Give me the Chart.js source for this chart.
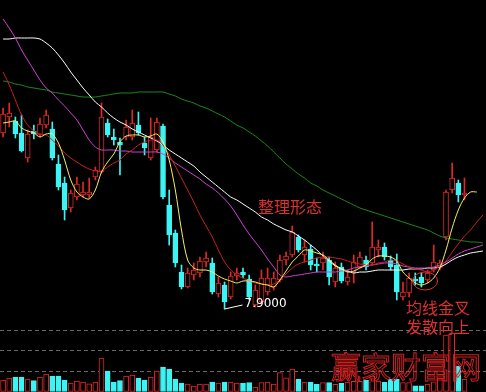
<!DOCTYPE html>
<html>
<head>
<meta charset="utf-8">
<script src="https://cdn.jsdelivr.net/npm/chart.js@4.4.1/dist/chart.umd.min.js"></script>
<style>
    html, body { margin: 0; padding: 0; background: #000; }
    #kline { display: block; }
</style>
</head>
<body>
<canvas id="kline" width="486" height="392"></canvas>
<script>
// daily candles
var opens = [11.42, 11.74, 11.66, 11.42, 10.92, 11.46, 11.38, 11.58, 11.50, 10.80,
    10.42, 9.92, 10.14, 10.18, 10.18, 10.54, 10.64, 11.62, 11.34, 11.24,
    11.34, 11.34, 11.58, 11.22, 10.92, 11.08, 11.56, 9.98, 9.42, 8.64,
    8.34, 8.58, 8.62, 8.84, 8.82, 8.20, 8.38, 8.14, 8.56, 8.64,
    8.50, 7.98, 8.04, 8.24, 8.34, 8.48, 8.88, 8.98, 9.34, 8.98,
    9.10, 8.80, 8.82, 8.88, 8.44, 8.74, 8.44, 8.64, 8.74, 8.88,
    8.82, 9.08, 9.14, 8.88, 8.78, 8.14, 8.22, 8.50, 8.54, 8.48,
    8.68, 8.72, 9.34, 10.28, 10.42, 10.18];
var closes = [11.80, 11.82, 11.40, 11.06, 11.40, 11.40, 11.60, 11.78, 10.92, 10.34,
    9.88, 10.22, 10.40, 10.24, 10.24, 10.68, 11.74, 11.38, 11.28, 11.18,
    11.54, 11.62, 11.42, 11.12, 11.34, 11.64, 10.14, 9.38, 8.82, 8.34,
    8.62, 8.68, 8.86, 8.92, 8.24, 8.42, 8.04, 8.56, 8.62, 8.58,
    8.14, 8.28, 8.52, 8.52, 8.52, 8.88, 8.96, 9.44, 9.08, 9.14,
    8.78, 8.76, 8.92, 8.54, 8.72, 8.46, 8.54, 8.84, 8.94, 8.74,
    9.14, 9.14, 8.94, 8.74, 8.24, 8.24, 8.52, 8.46, 8.42, 8.62,
    8.84, 8.82, 10.24, 10.52, 10.18, 10.22];
var highs = [11.92, 12.02, 11.74, 11.78, 11.48, 11.58, 11.72, 11.88, 11.64, 10.98,
    10.54, 10.28, 10.54, 10.44, 10.52, 10.74, 12.02, 11.70, 11.50, 11.32,
    11.68, 11.88, 11.84, 11.34, 11.72, 11.72, 11.60, 10.28, 9.48, 8.78,
    8.72, 8.82, 8.94, 9.04, 8.92, 8.54, 8.44, 8.64, 8.72, 8.72,
    8.58, 8.38, 8.68, 8.72, 8.64, 8.98, 9.04, 9.56, 9.38, 9.28,
    9.18, 8.92, 9.04, 8.94, 8.84, 8.82, 8.68, 8.98, 9.04, 8.96,
    9.64, 9.28, 9.22, 8.96, 9.00, 8.44, 8.62, 8.62, 8.62, 8.68,
    9.18, 8.88, 10.28, 10.82, 10.48, 10.52];
var lows = [11.34, 11.54, 11.32, 11.04, 10.84, 11.30, 11.34, 11.52, 10.88, 10.28,
    9.68, 9.84, 10.08, 10.14, 10.12, 10.48, 10.62, 11.34, 11.18, 10.58,
    11.28, 11.28, 11.38, 10.98, 10.88, 11.04, 10.10, 9.18, 8.74, 8.30,
    8.32, 8.48, 8.54, 8.74, 8.20, 8.14, 7.90, 8.10, 8.48, 8.52,
    8.08, 7.94, 8.00, 8.18, 8.28, 8.44, 8.78, 8.94, 9.04, 8.84,
    8.68, 8.64, 8.68, 8.38, 8.34, 8.42, 8.38, 8.42, 8.72, 8.68,
    8.78, 8.94, 8.88, 8.68, 8.08, 8.08, 8.14, 8.38, 8.34, 8.42,
    8.64, 8.68, 9.28, 10.22, 10.04, 10.08];
var volumes = [2940, 3430, 3675, 3675, 3185, 2770, 3675, 4410, 3920, 3920,
    2940, 2205, 2695, 2450, 2030, 2450, 8330, 5145, 2450, 2770,
    3920, 4165, 3430, 2940, 3675, 5145, 6125, 5635, 3185, 2205,
    1960, 1470, 1960, 1960, 2450, 2205, 2450, 2450, 2205, 2130,
    2280, 1225, 2280, 2450, 1960, 4730, 3500, 5635, 3110, 2450,
    2450, 1890, 2280, 2280, 1890, 2130, 2450, 2620, 2620, 2870,
    3920, 2695, 2380, 3185, 3185, 2280, 2280, 1540, 1540, 1960,
    2520, 3430, 13965, 14455, 6370, 3185];

// moving averages as drawn (they run a few bars past the last candle)
var ma5 = [11.62, 11.64, 11.66, 11.52, 11.46, 11.42, 11.34, 11.40, 11.40, 11.22,
    10.88, 10.48, 10.24, 10.14, 10.10, 10.28, 10.64, 10.84, 11.00, 11.24,
    11.36, 11.38, 11.38, 11.34, 11.36, 11.40, 11.24, 10.88, 10.28, 9.48,
    8.88, 8.72, 8.68, 8.68, 8.64, 8.56, 8.50, 8.46, 8.42, 8.46,
    8.46, 8.44, 8.40, 8.38, 8.34, 8.48, 8.66, 8.84, 8.96, 9.08,
    9.06, 9.02, 8.98, 8.88, 8.78, 8.70, 8.64, 8.66, 8.72, 8.78,
    8.90, 8.96, 8.96, 8.94, 8.86, 8.64, 8.52, 8.42, 8.38, 8.42,
    8.52, 8.72, 9.08, 9.52, 9.88, 10.12, 10.24, 10.24, null];
var ma10 = [12.64, 12.38, 12.08, 11.78, 11.58, 11.46, 11.40, 11.38, 11.28, 11.16,
    11.02, 10.92, 10.84, 10.76, 10.70, 10.66, 10.66, 10.74, 10.82, 10.88,
    11.00, 11.08, 11.18, 11.24, 11.28, 11.28, 11.18, 10.98, 10.76, 10.52,
    10.28, 10.04, 9.78, 9.56, 9.34, 9.08, 8.84, 8.68, 8.58, 8.52,
    8.46, 8.42, 8.40, 8.38, 8.40, 8.48, 8.60, 8.72, 8.80, 8.84,
    8.88, 8.92, 8.94, 8.94, 8.92, 8.90, 8.86, 8.82, 8.80, 8.78,
    8.78, 8.82, 8.84, 8.88, 8.86, 8.80, 8.74, 8.70, 8.68, 8.64,
    8.68, 8.76, 8.86, 9.04, 9.20, 9.36, 9.48, 9.64, 9.78];
var ma20 = [13.70, 13.52, 13.32, 13.08, 12.88, 12.68, 12.48, 12.32, 12.22, 12.08,
    11.96, 11.82, 11.68, 11.48, 11.28, 11.14, 11.08, 11.08, 11.08, 11.06,
    11.06, 11.04, 11.04, 11.04, 11.04, 11.04, 11.00, 10.92, 10.82, 10.74,
    10.66, 10.58, 10.50, 10.40, 10.32, 10.22, 10.10, 9.96, 9.78, 9.58,
    9.40, 9.24, 9.08, 8.90, 8.74, 8.58, 8.54, 8.56, 8.58, 8.60,
    8.62, 8.64, 8.64, 8.64, 8.64, 8.66, 8.68, 8.72, 8.74, 8.76,
    8.78, 8.80, 8.82, 8.82, 8.80, 8.76, 8.74, 8.72, 8.72, 8.72,
    8.74, 8.78, 8.84, 8.92, 9.00, 9.06, 9.10, 9.14, 9.18];
var ma30 = [13.30, 13.30, 13.32, 13.32, 13.32, 13.32, 13.30, 13.22, 13.12, 12.98,
    12.82, 12.64, 12.48, 12.32, 12.18, 12.04, 11.94, 11.82, 11.72, 11.64,
    11.58, 11.50, 11.44, 11.38, 11.32, 11.26, 11.18, 11.08, 11.00, 10.92,
    10.84, 10.76, 10.64, 10.54, 10.44, 10.34, 10.24, 10.14, 10.08, 10.00,
    9.92, 9.84, 9.74, 9.68, 9.60, 9.54, 9.48, 9.44, 9.36, 9.28,
    9.18, 9.08, 8.96, 8.86, 8.76, 8.70, 8.66, 8.62, 8.64, 8.64,
    8.66, 8.68, 8.68, 8.68, 8.68, 8.68, 8.70, 8.70, 8.70, 8.72,
    8.72, 8.74, 8.80, 8.88, 8.94, 8.98, 9.02, 9.04, 9.06];
var ma60 = [12.46, 12.44, 12.40, 12.38, 12.34, 12.32, 12.30, 12.28, 12.24, 12.22,
    12.20, 12.18, 12.16, 12.14, 12.14, 12.14, 12.16, 12.18, 12.20, 12.22,
    12.22, 12.22, 12.24, 12.24, 12.24, 12.24, 12.24, 12.20, 12.16, 12.10,
    12.06, 12.02, 11.96, 11.92, 11.86, 11.80, 11.74, 11.66, 11.58, 11.52,
    11.44, 11.36, 11.26, 11.16, 11.04, 10.92, 10.80, 10.70, 10.60, 10.52,
    10.42, 10.36, 10.28, 10.22, 10.16, 10.10, 10.04, 9.98, 9.92, 9.88,
    9.84, 9.80, 9.76, 9.72, 9.68, 9.64, 9.60, 9.56, 9.52, 9.48,
    9.42, 9.36, 9.32, 9.30, 9.28, 9.26, 9.24, 9.24, 9.22];

var labels = ma10.map(function (v, i) { return String(i + 1); });

var UP = '#e02828', DOWN = '#3cf4f4';

var isUp = closes.map(function (c, i) { return c >= opens[i]; });
var bodyData = opens.map(function (o, i) { return [o, closes[i]]; });
var wickData = lows.map(function (l, i) { return [l, highs[i]]; });
var edgeColors = isUp.map(function (u) { return u ? UP : DOWN; });
var fillColors = isUp.map(function (u) { return u ? '#000' : DOWN; });

function maLine(data, color, order) {
    return {
        type: 'line',
        data: data,
        borderColor: color,
        borderWidth: 1,
        pointRadius: 0,
        tension: 0.3,
        fill: false,
        yAxisID: 'y',
        order: order
    };
}

var annotate = {
    id: 'annotate',
    afterDatasetsDraw: function (chart) {
        var ctx = chart.ctx;
        var xs = chart.scales.x, ys = chart.scales.y;
        ctx.save();

        // red notes
        ctx.fillStyle = '#e03030';
        ctx.font = '16px "Noto Sans CJK SC"';
        ctx.textAlign = 'center';
        ctx.textBaseline = 'middle';
        ctx.fillText('整理形态', xs.getPixelForValue(46.65), ys.getPixelForValue(9.94));
        ctx.fillText('均线金叉', xs.getPixelForValue(70.7), ys.getPixelForValue(7.92));
        ctx.fillText('发散向上', xs.getPixelForValue(70.7), ys.getPixelForValue(7.54));

        // ring round the crossing
        ctx.strokeStyle = '#e03030';
        ctx.lineWidth = 1;
        ctx.beginPath();
        ctx.ellipse(xs.getPixelForValue(68.6), ys.getPixelForValue(8.46), 12.5, 9, 0, 0, Math.PI * 2);
        ctx.stroke();

        // lowest price marker
        var lowIdx = 0;
        lows.forEach(function (l, i) { if (l < lows[lowIdx]) lowIdx = i; });
        var lx = xs.getPixelForValue(lowIdx), ly = ys.getPixelForValue(lows[lowIdx]);
        ctx.strokeStyle = '#fff';
        ctx.beginPath();
        ctx.moveTo(lx, ly);
        ctx.lineTo(lx + 18, ly - 4);
        ctx.stroke();
        ctx.fillStyle = '#fff';
        ctx.font = '12px "DejaVu Sans"';
        ctx.textAlign = 'left';
        ctx.fillText(lows[lowIdx].toFixed(4), lx + 20, ly - 5);

        // watermark
        ctx.strokeStyle = '#d02020';
        ctx.font = '30px "Noto Sans CJK SC"';
        ctx.textAlign = 'center';
        ctx.strokeText('赢家财富网', xs.getPixelForValue(65.5), ys.getPixelForValue(6.74));

        ctx.restore();
    }
};

new Chart(document.getElementById('kline'), {
    data: {
        labels: labels,
        datasets: [
            maLine(ma5, '#f4f064', 0),
            maLine(ma10, '#c82020', 1),
            maLine(ma20, '#d040d0', 2),
            maLine(ma30, '#ffffff', 3),
            maLine(ma60, '#1c8a1c', 4),
            {
                type: 'bar',
                data: bodyData,
                backgroundColor: fillColors,
                borderColor: edgeColors,
                borderWidth: 1,
                borderSkipped: false,
                barThickness: 5,
                grouped: false,
                yAxisID: 'y',
                order: 10
            },
            {
                type: 'bar',
                data: wickData,
                backgroundColor: edgeColors,
                borderWidth: 0,
                barThickness: 1,
                grouped: false,
                yAxisID: 'y',
                order: 11
            },
            {
                type: 'bar',
                data: volumes,
                backgroundColor: fillColors,
                borderColor: edgeColors,
                borderWidth: 1,
                borderSkipped: false,
                barThickness: 5,
                grouped: false,
                yAxisID: 'yv',
                order: 12
            }
        ]
    },
    options: {
        responsive: false,
        animation: false,
        layout: { padding: 0 },
        plugins: {
            legend: { display: false },
            tooltip: { enabled: false }
        },
        scales: {
            x: { display: false, offset: true },
            y: { display: false, position: 'left', min: 6.24, max: 14.08 },
            yv: {
                position: 'right',
                min: 0,
                max: 96000,
                ticks: { display: false, stepSize: 5000 },
                border: { display: false, dash: [4, 3] },
                grid: {
                    drawTicks: false,
                    lineWidth: 1,
                    color: function (c) {
                        var v = c.tick ? c.tick.value : 0;
                        return (v > 0 && v <= 20000) ? '#6a6a6a' : 'rgba(0,0,0,0)';
                    }
                },
                afterFit: function (s) { s.width = 0; }
            }
        }
    },
    plugins: [annotate]
});
</script>
</body>
</html>
